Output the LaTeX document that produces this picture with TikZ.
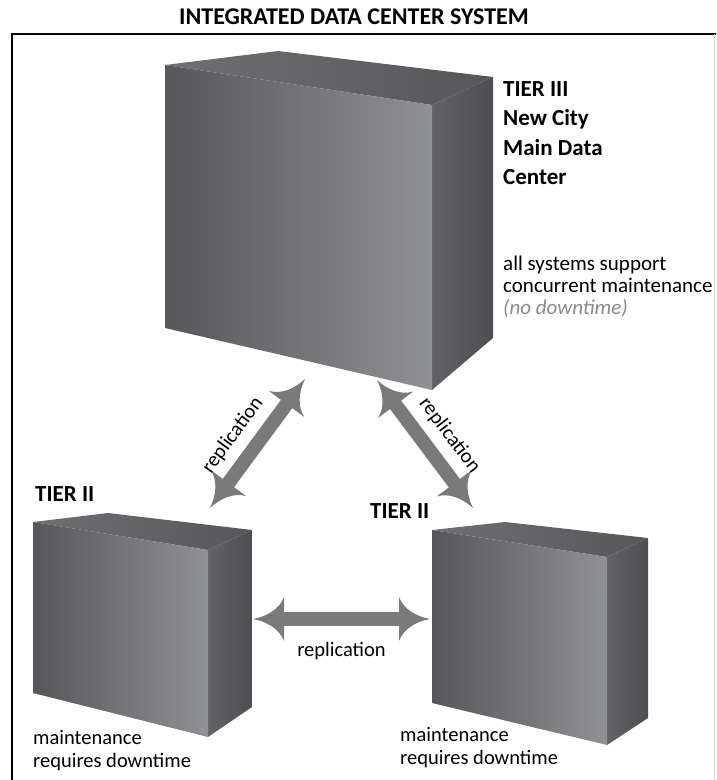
\documentclass[tikz,border=0pt]{standalone}
\usepackage{fontspec}
\setmainfont{Carlito}
\usetikzlibrary{arrows.meta}

\definecolor{frontL}{HTML}{57575B}
\definecolor{frontR}{HTML}{909195}
\definecolor{topL}{HTML}{707074}
\definecolor{topR}{HTML}{57575B}
\definecolor{sideL}{HTML}{636367}
\definecolor{sideR}{HTML}{4E4E52}
\definecolor{replgray}{HTML}{7A7A7A}
\definecolor{notegray}{HTML}{8A8A8A}

% swept arrow head with concave flanks
\pgfdeclarearrow{
  name = Swept,
  parameters = {\the\pgfarrowlength,\the\pgfarrowwidth},
  setup code = {
    \pgfarrowssettipend{0pt}
    \pgfarrowssetbackend{-\pgfarrowlength}
    \pgfarrowssetlineend{-.85\pgfarrowlength}
    \pgfarrowssetvisualbackend{-\pgfarrowlength}
    \pgfarrowshullpoint{0pt}{0pt}
    \pgfarrowsupperhullpoint{-\pgfarrowlength}{.5\pgfarrowwidth}
    \pgfarrowssavethe\pgfarrowlength
    \pgfarrowssavethe\pgfarrowwidth
  },
  drawing code = {
    \pgfpathmoveto{\pgfqpoint{0pt}{0pt}}
    \pgfpathcurveto{\pgfpoint{-.45\pgfarrowlength}{.06\pgfarrowwidth}}{\pgfpoint{-.85\pgfarrowlength}{.22\pgfarrowwidth}}{\pgfpoint{-\pgfarrowlength}{.5\pgfarrowwidth}}
    \pgfpathlineto{\pgfpoint{-\pgfarrowlength}{-.5\pgfarrowwidth}}
    \pgfpathcurveto{\pgfpoint{-.85\pgfarrowlength}{-.22\pgfarrowwidth}}{\pgfpoint{-.45\pgfarrowlength}{-.06\pgfarrowwidth}}{\pgfqpoint{0pt}{0pt}}
    \pgfpathclose
    \pgfusepathqfill
  },
  defaults = {length = 31pt, width = 44pt}
}

% box: front-top-left, top-back, back-right, front-top-right, front-bottom-right, side-bottom, front-bottom-left
\newcommand{\dcbox}[7]{%
  \shade[left color=topL, right color=topR] (#1) -- (#2) -- (#3) -- (#4) -- cycle;
  \shade[left color=sideL, right color=sideR] (#4) -- (#3) -- (#6) -- (#5) -- cycle;
  \shade[left color=frontL, right color=frontR] (#1) -- (#4) -- (#5) -- (#7) -- cycle;
}

\begin{document}
\begin{tikzpicture}[x=1pt,y=-1pt,
    repl/.style={line width=14pt, draw=replgray, Swept-Swept},
    lbl/.style={inner sep=0pt, font=\fontsize{20.5}{22}\selectfont},
    tier/.style={inner sep=0pt, anchor=north west, align=left, font=\fontsize{23}{29.6}\selectfont\bfseries},
    note/.style={inner sep=0pt, anchor=north west, align=left, font=\fontsize{21}{22}\selectfont}]
    \useasboundingbox (0,0) rectangle (716,780);

    % frame and title
    \draw[line width=2pt] (12,780) -- (12,34) -- (716,34);
    \draw[gray!35] (714.5,34) -- (714.5,780);
    \node[inner sep=0pt, font=\fontsize{24}{28}\selectfont\bfseries] (title) at (354,17) {INTEGRATED DATA CENTER SYSTEM};

    % Tier III (main data center)
    \dcbox{165,65}{278,51}{493,77}{432,105}{432,390}{493,338}{165,328}
    \node[tier] (mainname) at (503,81) {TIER III\\New City\\Main Data\\Center};
    \node[note] (mainnote) at (503,256) {all systems support\\concurrent maintenance\\{\color{notegray}\itshape (no downtime)}};

    % Tier II (left)
    \dcbox{33,522}{108,513}{252,530}{208,550}{208,737}{252,707}{33,693}
    \node[tier] (leftname) at (35,486) {TIER II};
    \node[note, font=\fontsize{20.5}{23.5}\selectfont] (leftnote) at (33,730) {maintenance\\requires downtime};

    % Tier II (right)
    \dcbox{432,530}{505,522}{648,538}{607,557}{607,745}{648,718}{432,703}
    \node[tier] (rightname) at (370,503) {TIER II};
    \node[note, font=\fontsize{20.5}{23.5}\selectfont] (rightnote) at (400,727) {maintenance\\requires downtime};

    % replication links
    \coordinate (mainL) at (305,379);
    \coordinate (mainR) at (377,380);
    \coordinate (leftT) at (210,508);
    \coordinate (rightT) at (473,508);
    \coordinate (leftE) at (253,619);
    \coordinate (rightW) at (430,619);

    \draw[repl] (leftT) -- node[lbl, sloped, above=9pt, pos=0.45] (repA) {replication} (mainL);
    \draw[repl] (mainR) -- node[lbl, sloped, above=9pt, pos=0.55] (repB) {replication} (rightT);
    \draw[repl] (leftE) -- node[lbl, below=16pt] (repC) {replication} (rightW);
\end{tikzpicture}
\end{document}
